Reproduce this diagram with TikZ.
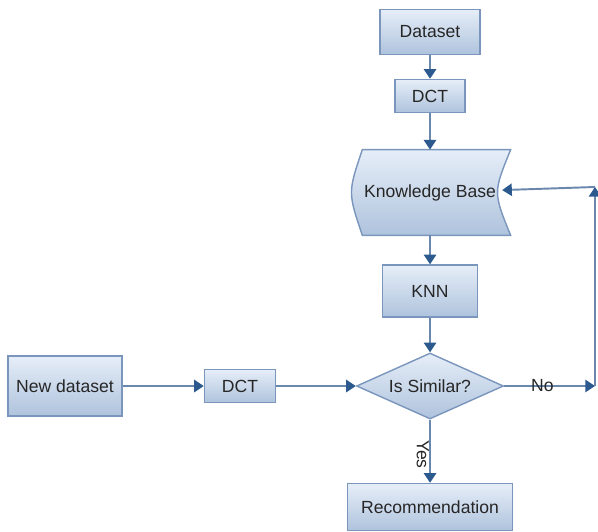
\documentclass[tikz,border=0pt]{standalone}
\usepackage{fontspec}
\setmainfont{Liberation Sans}
\usepackage{tikz}
\usetikzlibrary{shapes.geometric}
\usetikzlibrary{calc}
\usetikzlibrary{backgrounds}
\usetikzlibrary{arrows.meta}

\definecolor{boxtop}{HTML}{E6EEF8}
\definecolor{boxbot}{HTML}{AFC3DD}
\definecolor{boxline}{HTML}{7A96BC}
\definecolor{lineblue}{HTML}{6A87AE}
\definecolor{headblue}{HTML}{2C5A8F}

\begin{document}
\begin{tikzpicture}[
    box/.style={draw=boxline, line width=0.8pt, top color=boxtop, bottom color=boxbot,
        font=\fontsize{10}{12}\selectfont, text=black!85, inner sep=2pt},
    decision/.style={diamond, aspect=2.2, inner sep=0pt, draw=boxline, line width=0.8pt,
        top color=boxtop, bottom color=boxbot, font=\fontsize{10}{12}\selectfont, text=black!85},
    arr/.style={draw=lineblue, line width=1.1pt, -{Triangle[color=headblue, width=7pt, length=5.5pt]}},
    lbl/.style={font=\fontsize{10}{12}\selectfont, text=black!85}
]
            \useasboundingbox (0,0) rectangle (11.96,10.62);

            % Training branch
            \node[box, minimum width=2cm, minimum height=0.9cm] (dataset) at (8.6,9.98) {Dataset};
            \node[box, minimum width=1.4cm, minimum height=0.66cm] (dct1) at (8.6,8.7) {DCT};
            \node[font=\fontsize{10}{12}\selectfont, text=black!85, minimum width=2.86cm, minimum height=1.7cm] (kb) at (8.6,6.77) {Knowledge Base};
            \node[box, minimum width=1.9cm, minimum height=1.04cm] (knn) at (8.6,4.8) {KNN};

            % Stored data shape behind the text
            \begin{scope}[on background layer]
                \draw[draw=boxline, line width=0.8pt, top color=boxtop, bottom color=boxbot]
                    ($(kb.north west)+(0.09,0)$) -- ($(kb.north east)+(0.17,0)$)
                    .. controls ($(kb.east)+(-0.18,0)$) .. ($(kb.south east)+(0.17,0)$)
                    -- ($(kb.south west)+(0.09,0)$)
                    .. controls ($(kb.west)+(-0.2,0)$) .. ($(kb.north west)+(0.09,0)$) -- cycle;
            \end{scope}

            % Query branch
            \node[box, minimum width=2.28cm, minimum height=1.2cm] (newdata) at (1.3,2.9) {New dataset};
            \node[box, minimum width=1.42cm, minimum height=0.66cm] (dct2) at (4.8,2.9) {DCT};
            \node[decision, minimum width=2.94cm, minimum height=1.32cm] (sim) at (8.6,2.9) {Is Similar?};
            \node[box, minimum width=3.3cm, minimum height=0.94cm] (rec) at (8.6,0.48) {Recommendation};

            % Connectors
            \draw[arr] (dataset) -- (dct1);
            \draw[arr] (dct1) -- (kb);
            \draw[arr] (kb) -- (knn);
            \draw[arr] (knn) -- (sim);
            \draw[arr] (newdata) -- (dct2);
            \draw[arr] (dct2) -- (sim);
            \draw[arr] (sim) -- node[lbl, pos=0.55, rotate=-90, anchor=north, inner sep=0pt] {Yes} (rec);

            % Feedback loop
            \coordinate (nr) at (11.9,2.9);
            \coordinate (tr) at (11.9,6.88);
            \draw[arr] (sim) -- node[lbl, pos=0.42] {No} (nr);
            \draw[arr] (nr) -- (tr);
            \draw[arr] (tr) -- (kb);

        \end{tikzpicture}
\end{document}
